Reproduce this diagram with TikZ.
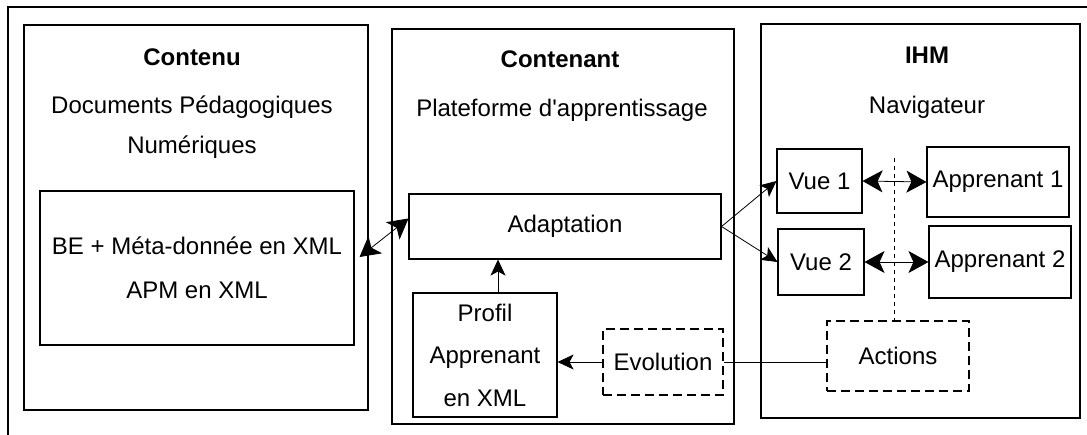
\documentclass[tikz,border=0pt]{standalone}
\usepackage{fontspec}
\setmainfont{Liberation Sans}
\usetikzlibrary{shapes, arrows.meta, positioning, calc}

\tikzset{
  panel/.style={draw, line width=1.2pt},
  box/.style={draw, line width=1.1pt, inner sep=0pt, align=center},
  dashbox/.style={box, dash pattern=on 9pt off 5pt},
  sz/.style n args={2}{minimum width=#1pt, minimum height=#2pt},
  title/.style={font=\fontsize{24}{28}\selectfont\bfseries},
  arr/.style={line width=0.8pt, -{Stealth[length=16pt,width=15pt,inset=4pt]}},
  dblarr/.style={line width=0.8pt,
    {Stealth[length=20pt,width=22pt,inset=5pt]}-{Stealth[length=20pt,width=22pt,inset=5pt]}},
}

\begin{document}
\begin{tikzpicture}[x=1pt, y=-1pt, font=\fontsize{24}{28}\selectfont]
  \useasboundingbox (0,0) rectangle (1087,434);
  \draw[line width=1.2pt] (8,445) -- (8,7) -- (1095,7);

  % Contenu
  \node[panel, sz={344}{385}] (contenu) at (196,217.5) {};
  \node[title] (contenuT) at (192,57) {Contenu};
  \node[align=center, font=\fontsize{24}{40}\selectfont] (contenuS) at (192,127)
    {Documents Pédagogiques\\Numériques};
  \node[box, sz={314}{154}, font=\fontsize{24}{44}\selectfont] (be) at (197,268)
    {BE + Méta-donnée en XML\\APM en XML};

  % Contenant
  \node[panel, sz={342}{395}] (contenant) at (563,226.5) {};
  \node[title] (contenantT) at (560,59) {Contenant};
  \node (contenantS) at (562,110) {Plateforme d\textquotesingle apprentissage};
  \node[box, sz={312}{65}] (adapt) at (565,226.5) {Adaptation};
  \node[box, sz={144}{124}, font=\fontsize{24}{42.5}\selectfont] (profil) at (485,355)
    {Profil\\Apprenant\\en XML};
  \node[dashbox, sz={120}{66}] (evol) at (663,362) {Evolution};

  % IHM
  \node[panel, sz={319}{394}] (ihm) at (920.5,221) {};
  \node[title] (ihmT) at (927,55) {IHM};
  \node (ihmS) at (927,107) {Navigateur};
  \node[box, sz={85}{64}] (vue1) at (819.5,181) {Vue 1};
  \node[box, sz={86}{66}] (vue2) at (821,262) {Vue 2};
  \node[box, sz={142}{70}] (app1) at (998,182) {Apprenant 1};
  \node[box, sz={142}{72}] (app2) at (1000,262) {Apprenant 2};
  \node[dashbox, sz={142}{70}] (actions) at (898,356) {Actions};

  \coordinate (dtop) at (894,158);
  \draw[line width=0.9pt, dash pattern=on 4pt off 4pt] (dtop) -- (dtop |- actions.north);

  % connecteurs
  \draw[dblarr] ([xshift=5pt,yshift=11pt]be.east) -- ([yshift=8pt]adapt.west);
  \draw[arr] (adapt.east) -- (vue1.west);
  \draw[arr] (adapt.east) -- (vue2.west);
  \draw[dblarr] (vue1.east) -- (app1.west);
  \draw[dblarr] (vue2.east) -- (app2.west);
  \draw[arr] ([xshift=13pt]profil.north) -- ([xshift=13pt]profil.north |- adapt.south);
  \draw[arr] (evol.west) -- (evol.west -| profil.east);
  \draw[line width=0.8pt] (actions.west |- evol.east) -- (evol.east);
\end{tikzpicture}
\end{document}
